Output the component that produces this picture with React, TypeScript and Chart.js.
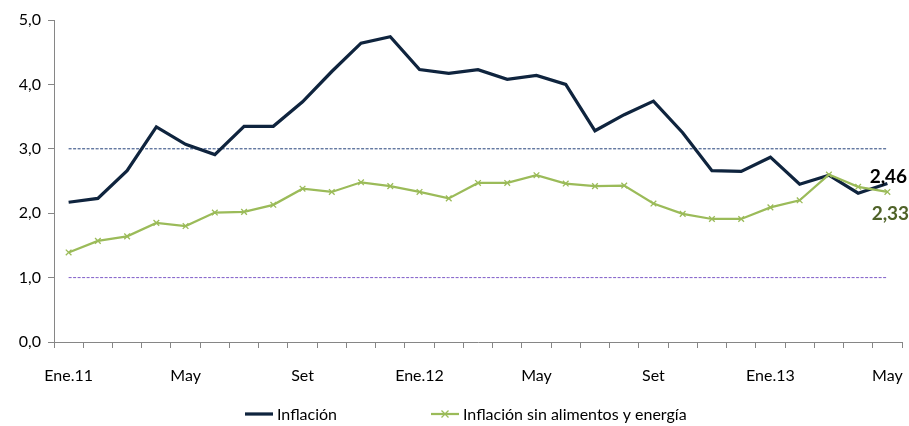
import React, { useEffect, useRef } from "react";
import { Chart, registerables } from "chart.js";

Chart.register(...registerables);

const months = [
  "Ene.11", "Feb", "Mar", "Abr", "May", "Jun", "Jul", "Ago", "Set", "Oct", "Nov", "Dic",
  "Ene.12", "Feb", "Mar", "Abr", "May", "Jun", "Jul", "Ago", "Set", "Oct", "Nov", "Dic",
  "Ene.13", "Feb", "Mar", "Abr", "May",
];

const inflacion = [
  2.17, 2.23, 2.66, 3.34, 3.07, 2.91, 3.35, 3.35, 3.73, 4.20, 4.64, 4.74,
  4.23, 4.17, 4.23, 4.08, 4.14, 4.00, 3.28, 3.53, 3.74, 3.25, 2.66, 2.65,
  2.87, 2.45, 2.59, 2.31, 2.46,
];

const inflacionSub = [
  1.39, 1.57, 1.64, 1.85, 1.80, 2.01, 2.02, 2.13, 2.38, 2.33, 2.48, 2.42,
  2.33, 2.23, 2.47, 2.47, 2.59, 2.46, 2.42, 2.43, 2.15, 1.99, 1.91, 1.91,
  2.09, 2.20, 2.60, 2.41, 2.33,
];

const upperTarget = 3.0;
const lowerTarget = 1.0;

const yTicks = [0, 1, 2, 3, 4, 5];
const seriesNames = ["Inflación", "Inflación sin alimentos y energía"];

const NAVY = "#0F243E";
const GREEN = "#9BBB59";
const OLIVE = "#4F6228";
const FONT = "Lato, 'Open Sans', sans-serif";

const fmt = (v: number, d: number) => v.toFixed(d).replace(".", ",");

export default function App() {
  const ref = useRef<HTMLCanvasElement | null>(null);

  useEffect(() => {
    if (!ref.current) return;

    const endLabels = {
      id: "endLabels",
      afterDatasetsDraw(chart: any) {
        const ctx = chart.ctx;
        ctx.save();
        ctx.font = `bold 19px ${FONT}`;
        ctx.textAlign = "center";
        ctx.textBaseline = "alphabetic";
        const m0 = chart.getDatasetMeta(0);
        const p0 = m0.data[m0.data.length - 1];
        ctx.fillStyle = "#000000";
        ctx.fillText(fmt(inflacion[inflacion.length - 1], 2), p0.x + 1, p0.y - 1);
        const m1 = chart.getDatasetMeta(1);
        const p1 = m1.data[m1.data.length - 1];
        ctx.fillStyle = OLIVE;
        ctx.fillText(fmt(inflacionSub[inflacionSub.length - 1], 2), p1.x + 3, p1.y + 28);
        ctx.restore();
      },
    };

    const customLegend = {
      id: "customLegend",
      afterDraw(chart: any) {
        const ctx = chart.ctx;
        const y = 414;
        ctx.save();
        ctx.font = `16px ${FONT}`;
        ctx.textBaseline = "middle";
        ctx.textAlign = "left";
        ctx.strokeStyle = NAVY;
        ctx.lineWidth = 3.25;
        ctx.beginPath();
        ctx.moveTo(245, y);
        ctx.lineTo(273, y);
        ctx.stroke();
        ctx.fillStyle = "#000000";
        ctx.fillText(seriesNames[0], 277, y + 1);
        ctx.strokeStyle = GREEN;
        ctx.lineWidth = 2.25;
        ctx.beginPath();
        ctx.moveTo(431, y);
        ctx.lineTo(459, y);
        ctx.stroke();
        ctx.lineWidth = 1.3;
        ctx.beginPath();
        ctx.moveTo(441.5, y - 3.5);
        ctx.lineTo(448.5, y + 3.5);
        ctx.moveTo(441.5, y + 3.5);
        ctx.lineTo(448.5, y - 3.5);
        ctx.stroke();
        ctx.fillText(seriesNames[1], 463, y + 1);
        ctx.restore();
      },
    };

    const whiteBg = {
      id: "whiteBg",
      beforeDraw(chart: any) {
        const ctx = chart.ctx;
        ctx.save();
        ctx.fillStyle = "#ffffff";
        ctx.fillRect(0, 0, chart.width, chart.height);
        ctx.restore();
      },
    };

    const chart = new Chart(ref.current, {
      type: "line",
      data: {
        labels: months,
        datasets: [
          {
            label: seriesNames[0],
            data: inflacion,
            borderColor: NAVY,
            backgroundColor: NAVY,
            borderWidth: 3.25,
            pointRadius: 0,
            tension: 0,
            order: 1,
          },
          {
            label: seriesNames[1],
            data: inflacionSub,
            borderColor: GREEN,
            backgroundColor: GREEN,
            borderWidth: 2.25,
            pointStyle: "crossRot",
            pointRadius: 4,
            pointBorderWidth: 1.3,
            pointBorderColor: GREEN,
            tension: 0,
            order: 0,
          },
          {
            label: "Meta superior",
            data: months.map(() => upperTarget),
            borderColor: "#23407A",
            borderWidth: 1,
            borderDash: [3, 1.5],
            pointRadius: 0,
            order: 2,
          },
          {
            label: "Meta inferior",
            data: months.map(() => lowerTarget),
            borderColor: "#7F5CC8",
            borderWidth: 1,
            borderDash: [3, 1.5],
            pointRadius: 0,
            order: 3,
          },
        ],
      },
      options: {
        animation: false,
        responsive: false,
        maintainAspectRatio: false,
        layout: { padding: { left: 0, right: 7, top: 20, bottom: 0 } },
        plugins: {
          legend: { display: false },
          tooltip: { enabled: false },
          title: { display: false },
        },
        scales: {
          x: {
            type: "category",
            offset: true,
            grid: {
              display: true,
              drawOnChartArea: false,
              drawTicks: true,
              tickLength: 6,
              color: "#868686",
              offset: true,
            },
            border: { color: "#868686", width: 1 },
            ticks: {
              autoSkip: false,
              maxRotation: 0,
              minRotation: 0,
              padding: 18,
              color: "#000000",
              font: { family: FONT, size: 16 },
              callback: (_v: any, i: number) => (i % 4 === 0 ? months[i] : ""),
            },
            afterFit: (s: any) => {
              s.height = 84;
              s.paddingLeft = 0;
              s.paddingRight = 0;
            },
          },
          y: {
            min: yTicks[0],
            max: yTicks[yTicks.length - 1],
            afterBuildTicks: (s: any) => {
              s.ticks = yTicks.map((v) => ({ value: v }));
            },
            grid: {
              display: true,
              drawOnChartArea: false,
              drawTicks: true,
              tickLength: 6,
              color: "#868686",
            },
            border: { color: "#868686", width: 1 },
            ticks: {
              padding: 7,
              color: "#000000",
              font: { family: FONT, size: 16 },
              callback: (v: any) => fmt(Number(v), 1),
            },
            afterFit: (s: any) => {
              s.width = 54;
            },
          },
        },
      },
      plugins: [whiteBg, endLabels, customLegend],
    });

    return () => chart.destroy();
  }, []);

  return (
    <div style={{ position: "fixed", left: 0, top: 0, width: 909, height: 426, background: "#fff" }}>
      <canvas ref={ref} width={909} height={426} style={{ display: "block", width: 909, height: 426 }} />
    </div>
  );
}
